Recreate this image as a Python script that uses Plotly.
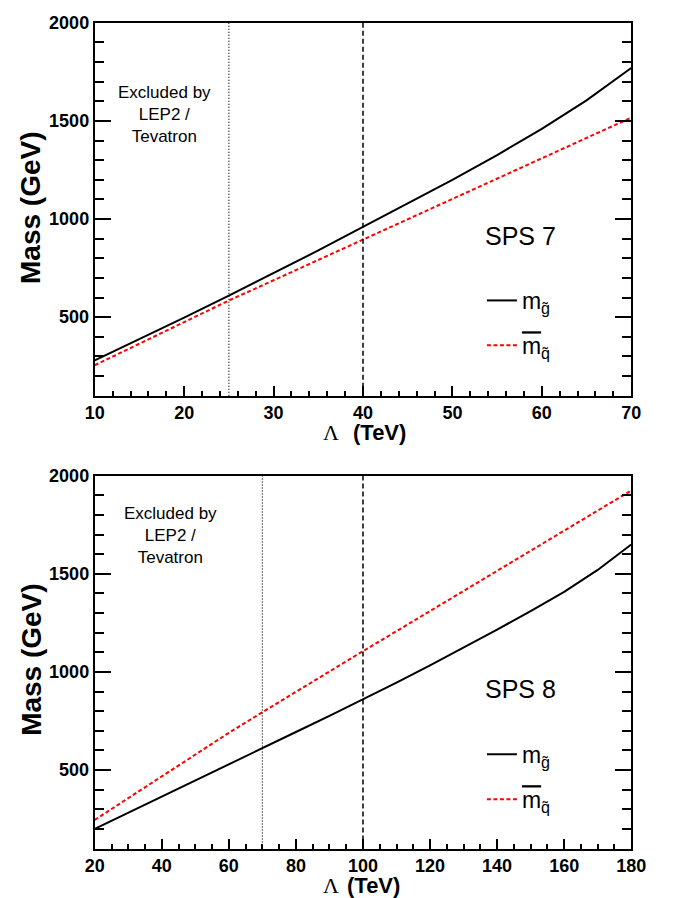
import plotly.graph_objects as go

# ---------------- data ----------------
lam7 = [10, 15, 20, 25, 30, 35, 40, 45, 50, 55, 60, 65, 70]
gluino7 = [280, 388, 498, 610, 724, 840, 960, 1078, 1200, 1326, 1460, 1605, 1770]
squark7 = [255, 365, 475, 585, 688, 792, 896, 998, 1100, 1205, 1310, 1413, 1517]

lam8 = [20, 30, 40, 50, 60, 70, 80, 90, 100, 110, 120, 130, 140, 150, 160, 170, 180]
gluino8 = [200, 283, 366, 448, 530, 612, 694, 776, 860, 946, 1034, 1124, 1216, 1310, 1408, 1520, 1650]
squark8 = [246, 358, 470, 580, 690, 795, 900, 1003, 1106, 1208, 1310, 1413, 1515, 1618, 1720, 1823, 1925]

lep_limit = [25, 70]      # dotted lines
cut_line = [40, 100]      # dashed lines
x_ranges = [[10, 70], [20, 180]]
x_dticks = [10, 20]
x_minor = [2, 5]
y_range = [100, 2000]
labels = ["SPS 7", "SPS 8"]

W, H = 678, 898
FONT = "Liberation Sans, Arial, Helvetica, sans-serif"
SERIF = "Liberation Serif, Times New Roman, serif"


def px(x):
    return x / W


def py(y):
    return 1 - y / H


fig = go.Figure()

g_name = "m<sub>g\u0303</sub>"
q_name = "<span style=\"text-decoration:overline\">m</span><sub>q\u0303</sub>"

sets = [(lam7, gluino7, squark7), (lam8, gluino8, squark8)]
for i, (lam, glu, sq) in enumerate(sets):
    xa = "x" if i == 0 else "x2"
    ya = "y" if i == 0 else "y2"
    lg = "legend" if i == 0 else "legend2"
    fig.add_trace(go.Scatter(x=lam, y=glu, mode="lines", name=g_name,
                             line=dict(color="black", width=2),
                             xaxis=xa, yaxis=ya, legend=lg, legendgroup=f"g{i}"))
    fig.add_trace(go.Scatter(x=lam, y=sq, mode="lines", name=q_name,
                             line=dict(color="#ff0000", width=2, dash="4px,2.5px"),
                             xaxis=xa, yaxis=ya, legend=lg, legendgroup=f"q{i}"))

# vertical reference lines
for i in range(2):
    xa = "x" if i == 0 else "x2"
    yd = "y domain" if i == 0 else "y2 domain"
    fig.add_shape(type="line", xref=xa, yref=yd, x0=lep_limit[i], x1=lep_limit[i], y0=0, y1=1,
                  line=dict(color="black", width=1.2, dash="1px,2px"))
    fig.add_shape(type="line", xref=xa, yref=yd, x0=cut_line[i], x1=cut_line[i], y0=0, y1=1,
                  line=dict(color="black", width=1.5, dash="5px,3px"))

top_dom = [py(390), py(13)]
bot_dom = [py(848), py(471)]
xdom = [px(88), px(645)]


def xaxis(i, anchor):
    return dict(domain=xdom, anchor=anchor, range=x_ranges[i], dtick=x_dticks[i], tick0=0,
                showgrid=False, zeroline=False, showline=True, linecolor="black", linewidth=2,
                mirror=True, ticks="inside", ticklen=10, tickwidth=1.5, tickcolor="black",
                minor=dict(ticks="inside", ticklen=5, dtick=x_minor[i], tickwidth=1.5, tickcolor="black",
                           showgrid=False),
                tickfont=dict(family=FONT, size=18, color="black", weight="bold"))


def yaxis(dom, anchor):
    return dict(domain=dom, anchor=anchor, range=y_range, dtick=500, tick0=0,
                showgrid=False, zeroline=False, showline=True, linecolor="black", linewidth=2,
                mirror="ticks", ticks="inside", ticklen=16, tickwidth=1.5, tickcolor="black",
                minor=dict(ticks="inside", ticklen=9, dtick=100, tickwidth=1.5, tickcolor="black",
                           showgrid=False),
                tickfont=dict(family=FONT, size=18, color="black", weight="bold"))


annotations = []
# y titles
for yc in [200, 657]:
    annotations.append(dict(text="<b>Mass (GeV)</b>", x=px(22), y=py(yc), xref="paper", yref="paper",
                            showarrow=False, textangle=-90, xanchor="center", yanchor="middle",
                            font=dict(family=FONT, size=28, color="black")))
# x titles: serif Lambda + bold unit
for (lam_r, unit_l, yc) in [(343, 355, 427), (343, 349, 885)]:
    annotations.append(dict(text="\u039b", x=px(lam_r), y=py(yc), xref="paper", yref="paper",
                            showarrow=False, xanchor="right", yanchor="middle", borderpad=0,
                            font=dict(family=SERIF, size=22, color="black")))
    annotations.append(dict(text="<b>(TeV)</b>", x=px(unit_l), y=py(yc), xref="paper", yref="paper",
                            showarrow=False, xanchor="left", yanchor="middle", borderpad=0,
                            font=dict(family=FONT, size=22, color="black")))
# exclusion text
for (xc, yc) in [(160, 106), (167, 531)]:
    annotations.append(dict(text="Excluded by<br>LEP2 /<br>Tevatron", x=px(xc), y=py(yc),
                            xref="paper", yref="paper", showarrow=False, xanchor="center",
                            yanchor="middle", align="center",
                            font=dict(family=FONT, size=17, color="black")))
# scenario labels
for lab, yc in zip(labels, [229, 687]):
    annotations.append(dict(text=lab, x=px(530), y=py(yc), xref="paper", yref="paper",
                            showarrow=False, xanchor="center", yanchor="middle",
                            font=dict(family=FONT, size=25, color="black")))

legend_common = dict(bgcolor="rgba(0,0,0,0)", borderwidth=0, font=dict(family=FONT, size=23, color="black"),
                     itemwidth=30, tracegroupgap=12, traceorder="grouped", xanchor="left", yanchor="top")

fig.update_layout(
    width=W, height=H, autosize=False,
    margin=dict(l=0, r=0, t=0, b=0),
    paper_bgcolor="white", plot_bgcolor="white",
    xaxis=xaxis(0, "y"), yaxis=yaxis(top_dom, "x"),
    xaxis2=xaxis(1, "y2"), yaxis2=yaxis(bot_dom, "x2"),
    annotations=annotations,
    legend=dict(x=px(490), y=py(272), **legend_common),
    legend2=dict(x=px(490), y=py(731), **legend_common),
    showlegend=True,
)

fig.write_html("out.html",
               post_script="document.body.style.margin='0';document.body.style.overflow='hidden';")
